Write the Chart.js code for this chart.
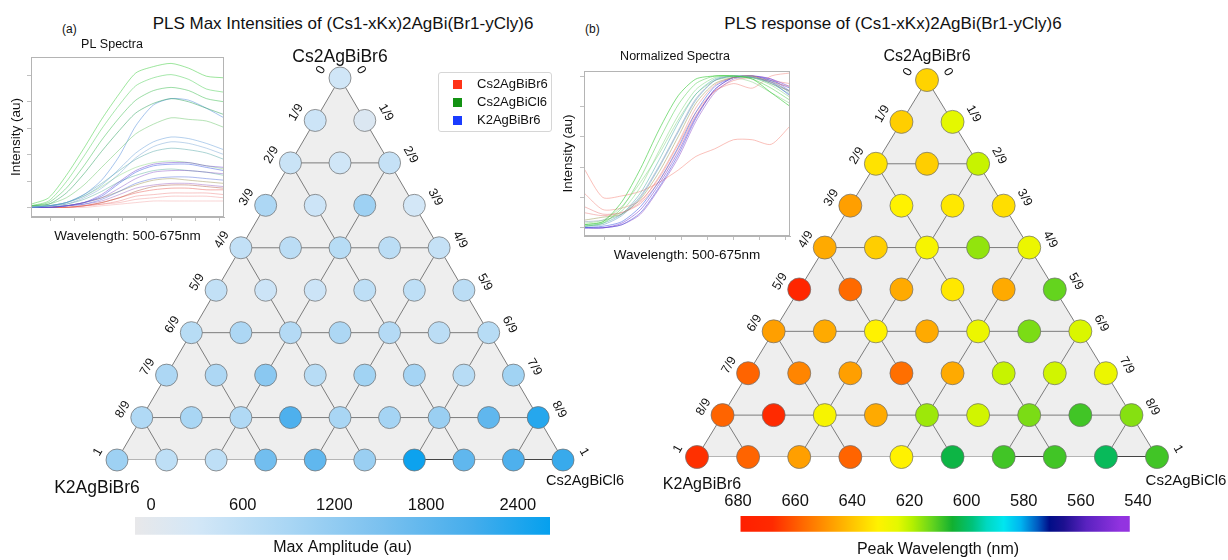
<!DOCTYPE html>
<html>
<head>
<meta charset="utf-8">
<script src="https://cdn.jsdelivr.net/npm/chart.js@4.4.1/dist/chart.umd.min.js"></script>
<style>
  body { margin: 0; background: #fff; width: 1228px; height: 560px; position: relative; overflow: hidden;
         font-family: 'Liberation Sans', Arial, Helvetica, sans-serif; color: #111; }
  canvas { position: absolute; }
  .main-title { position: absolute; top: 14px; font-size: 17px; white-space: nowrap; transform: translateX(-50%); }
  .panel { position: absolute; top: 22px; font-size: 12px; }
  .legend { position: absolute; left: 438px; top: 72px; width: 112px; height: 58px; border: 1px solid #d6d6d6;
            border-radius: 3px; font-size: 13px; }
  .legend div { position: absolute; left: 38px; height: 16px; line-height: 16px; white-space: nowrap; }
  .legend span { position: absolute; left: -24px; top: 4px; width: 9px; height: 9px; }
</style>
</head>
<body>
<div class="main-title" style="left:343px">PLS Max Intensities of (Cs1-xKx)2AgBi(Br1-yCly)6</div>
<div class="main-title" style="left:893px">PLS response of (Cs1-xKx)2AgBi(Br1-yCly)6</div>
<div class="panel" style="left:62px">(a)</div>
<div class="panel" style="left:585px">(b)</div>

<canvas id="terA" width="630" height="470" style="left:0;top:40px"></canvas>
<canvas id="terB" width="608" height="470" style="left:620px;top:40px"></canvas>
<canvas id="specA" width="232" height="222" style="left:0;top:30px"></canvas>
<canvas id="specB" width="236" height="230" style="left:560px;top:40px"></canvas>
<canvas id="barA" width="480" height="72" style="left:100px;top:488px"></canvas>
<canvas id="barB" width="528" height="75" style="left:700px;top:485px"></canvas>

<div class="legend">
  <div style="top:3px"><span style="background:#ff3318"></span>Cs2AgBiBr6</div>
  <div style="top:21px"><span style="background:#139213"></span>Cs2AgBiCl6</div>
  <div style="top:39px"><span style="background:#1a3cff"></span>K2AgBiBr6</div>
</div>

<script>
const FONT = "'Liberation Sans', Arial, Helvetica, sans-serif";
Chart.defaults.font.family = FONT;
Chart.defaults.color = '#111';

// --- data ---
const fracLabels = ['0', '1/9', '2/9', '3/9', '4/9', '5/9', '6/9', '7/9', '8/9', '1'];

// max amplitude (au), one row per Cs2AgBiBr6 fraction, left (K) to right (Cl)
const ampRows = [
  [350],
  [400, 150],
  [450, 350, 500],
  [850, 400, 1050, 300],
  [550, 650, 700, 650, 500],
  [550, 400, 400, 600, 600, 650],
  [700, 850, 750, 850, 750, 650, 700],
  [850, 850, 1300, 700, 1000, 950, 700, 1000],
  [800, 900, 800, 2000, 900, 950, 1100, 1800, 2350],
  [1050, 600, 600, 1600, 1800, 1100, 2550, 1800, 2000, 2200]
];

// peak wavelength (nm)
const peakRows = [
  [637],
  [638, 624],
  [634, 638, 621],
  [647, 631, 633, 635],
  [645, 638, 629, 616, 626],
  [672, 657, 645, 633, 645, 612],
  [647, 645, 631, 645, 626, 614, 623],
  [658, 652, 647, 656, 645, 621, 622, 626],
  [658, 668, 629, 645, 617, 622, 614, 609, 615],
  [667, 658, 647, 658, 631, 603, 609, 609, 601, 609]
];

const ampTicks = [0, 600, 1200, 1800, 2400];
const ampRange = [-105, 2611];
const peakTicks = [680, 660, 640, 620, 600, 580, 560, 540];
const peakRange = [543, 679];

const wavelengths = [500, 516, 532, 548, 564, 580, 595, 611, 627, 643, 659, 675];
const specTicksX = [517.5, 539, 561, 583, 605, 627, 649, 671];
const plTicksY = [0, 16.5, 33, 49.5, 66, 82.5];
const normTicksY = [0, 0.2, 0.4, 0.6, 0.8, 1.0];

// PL spectra (raw intensity, arbitrary units)
const plSpectra = [
  [2, 6, 20, 37, 55, 71, 84, 88, 90, 87, 82, 81],
  [1, 4, 16, 32, 49, 64, 76, 81, 83, 80, 74, 72],
  [1, 3, 12, 26, 42, 56, 67, 73, 75, 73, 68, 66],
  [1, 2, 9, 21, 35, 48, 59, 65, 68, 66, 62, 58],
  [1, 2, 6, 14, 25, 36, 46, 52, 56, 55, 54, 50],
  [0, 1, 3, 8, 17, 32, 51, 64, 68, 67, 62, 56],
  [0, 1, 3, 7, 14, 24, 34, 41, 44, 43, 40, 36],
  [0, 1, 2, 6, 12, 21, 31, 38, 41, 40, 37, 33],
  [0, 1, 3, 8, 15, 23, 30, 35, 37, 36, 34, 30],
  [0, 0, 1, 3, 8, 16, 23, 27, 28, 28, 26, 25],
  [0, 0, 1, 3, 7, 15, 22, 26, 27, 27, 25, 23],
  [0, 1, 3, 7, 13, 20, 25, 28, 29, 28, 26, 24],
  [0, 0, 1, 3, 6, 12, 18, 22, 23, 23, 22, 21],
  [0, 1, 2, 5, 10, 16, 20, 23, 24, 23, 22, 20],
  [0, 0, 1, 2, 5, 10, 15, 18, 19, 19, 18, 17],
  [0, 0, 1, 3, 6, 10, 14, 17, 18, 17, 16, 15],
  [0, 0, 1, 2, 4, 8, 12, 14, 15, 15, 14, 13],
  [0, 0, 0, 1, 3, 6, 9, 11, 12, 12, 11, 11],
  [0, 0, 0, 1, 2, 4, 7, 8, 9, 9, 9, 8],
  [0, 0, 0, 1, 2, 3, 5, 6, 7, 7, 7, 6],
  [0, 0, 0, 0, 1, 2, 3, 4, 4, 4, 4, 4],
  [0, 0, 0, 1, 3, 6, 10, 13, 14, 14, 13, 12]
];
const plColors = [
  'rgba(60,205,60,0.5)', 'rgba(80,210,90,0.5)', 'rgba(60,190,80,0.5)', 'rgba(40,160,90,0.5)', 'rgba(110,200,110,0.5)',
  'rgba(80,140,220,0.5)', 'rgba(90,150,215,0.45)', 'rgba(110,160,210,0.45)', 'rgba(70,160,160,0.45)',
  'rgba(110,70,210,0.5)', 'rgba(60,90,230,0.5)', 'rgba(130,210,120,0.45)', 'rgba(130,80,200,0.45)', 'rgba(80,170,150,0.45)',
  'rgba(70,100,220,0.45)', 'rgba(150,140,70,0.45)', 'rgba(150,90,190,0.45)',
  'rgba(230,80,70,0.45)', 'rgba(235,110,110,0.4)', 'rgba(240,130,130,0.4)', 'rgba(240,150,150,0.4)', 'rgba(170,80,60,0.45)'
];

// normalized spectra
const normSpectra = [
  [0.02, 0.04, 0.17, 0.39, 0.65, 0.87, 0.98, 1.00, 1.00, 0.98, 0.89, 0.80],
  [0.01, 0.03, 0.13, 0.33, 0.58, 0.81, 0.95, 1.00, 1.00, 0.98, 0.92, 0.84],
  [0.02, 0.04, 0.11, 0.27, 0.51, 0.74, 0.91, 0.99, 1.00, 0.99, 0.94, 0.86],
  [0.01, 0.03, 0.09, 0.23, 0.45, 0.69, 0.88, 0.98, 1.00, 0.99, 0.95, 0.88],
  [0.01, 0.02, 0.08, 0.20, 0.40, 0.63, 0.84, 0.97, 1.00, 0.99, 0.96, 0.90],
  [0.05, 0.07, 0.09, 0.19, 0.37, 0.60, 0.82, 0.95, 0.99, 1.00, 0.95, 0.90],
  [0.10, 0.08, 0.10, 0.17, 0.34, 0.56, 0.79, 0.94, 0.99, 1.00, 0.96, 0.93],
  [0.00, 0.01, 0.04, 0.14, 0.31, 0.53, 0.76, 0.93, 0.99, 1.00, 0.97, 0.92],
  [0.00, 0.00, 0.03, 0.12, 0.29, 0.50, 0.73, 0.91, 0.99, 1.00, 0.98, 0.93],
  [0.00, 0.00, 0.02, 0.10, 0.27, 0.48, 0.72, 0.91, 0.99, 0.99, 0.96, 0.87],
  [0.00, 0.00, 0.02, 0.09, 0.26, 0.46, 0.70, 0.89, 0.98, 1.00, 0.98, 0.90],
  [0.14, 0.09, 0.10, 0.16, 0.31, 0.52, 0.74, 0.90, 0.97, 0.99, 0.97, 0.95],
  [0.03, 0.05, 0.14, 0.30, 0.49, 0.71, 0.88, 0.97, 0.99, 0.96, 0.89, 0.82],
  [0.04, 0.05, 0.09, 0.21, 0.41, 0.64, 0.85, 0.97, 1.00, 1.00, 0.97, 0.89],
  [0.39, 0.20, 0.21, 0.24, 0.30, 0.38, 0.47, 0.52, 0.58, 0.58, 0.55, 0.67],
  [0.23, 0.12, 0.13, 0.18, 0.33, 0.55, 0.76, 0.90, 0.95, 0.92, 1.00, 1.02]
];
const normColors = [
  'rgba(50,200,50,0.6)', 'rgba(90,210,90,0.55)', 'rgba(120,215,120,0.5)', 'rgba(70,170,170,0.5)', 'rgba(90,150,190,0.5)',
  'rgba(150,150,80,0.5)', 'rgba(235,130,130,0.5)', 'rgba(60,90,230,0.55)', 'rgba(120,60,210,0.55)', 'rgba(70,80,220,0.55)',
  'rgba(140,70,200,0.5)', 'rgba(230,110,110,0.45)', 'rgba(130,210,130,0.5)', 'rgba(130,150,180,0.5)',
  'rgba(245,140,130,0.55)', 'rgba(240,120,110,0.45)'
];

// colour maps
const ampStops = [[-105, '#e8e8ea'], [300, '#d3e7f7'], [900, '#a9d6f4'], [1500, '#7bc1ef'], [2100, '#45adec'], [2611, '#05a0ee']];
const peakStops = [
  [540, '#9633e0'], [546, '#9233e0'], [558, '#5a22c0'], [566, '#1c1090'], [571, '#000e88'], [575, '#0058c0'],
  [581, '#00b4f0'], [587, '#00e6f0'], [593, '#00d8c0'], [598, '#00c27a'], [605, '#12b030'], [612, '#64d41e'],
  [619, '#b4f000'], [624, '#e4f800'], [631, '#fff200'], [640, '#ffc400'], [648, '#ff9a00'], [657, '#ff6a00'],
  [668, '#ff2a00'], [680, '#ff1e00']
];

function hexRgb(h) {
  return [parseInt(h.slice(1, 3), 16), parseInt(h.slice(3, 5), 16), parseInt(h.slice(5, 7), 16)];
}

function colorAt(stops, v) {
  if (v <= stops[0][0]) return stops[0][1];
  for (let i = 1; i < stops.length; i++) {
    if (v <= stops[i][0]) {
      const t = (v - stops[i - 1][0]) / (stops[i][0] - stops[i - 1][0]);
      const a = hexRgb(stops[i - 1][1]), b = hexRgb(stops[i][1]);
      const c = a.map((x, k) => Math.round(x + (b[k] - x) * t));
      return `rgb(${c[0]},${c[1]},${c[2]})`;
    }
  }
  return stops[stops.length - 1][1];
}

// --- ternary diagrams ---
function rotText(ctx, t, x, y, a) {
  ctx.save();
  ctx.translate(x, y);
  ctx.rotate(a);
  ctx.fillText(t, 0, 0);
  ctx.restore();
}

const ternaryLabels = {
  id: 'ternaryLabels',
  afterDatasetsDraw(chart, args, o) {
    const { ctx, scales: { x, y } } = chart;
    const px = (r, c) => [x.getPixelForValue(c - r / 2), y.getPixelForValue(r)];
    ctx.save();
    ctx.fillStyle = '#111';
    ctx.textAlign = 'center';
    ctx.textBaseline = 'middle';
    ctx.font = `${o.edgeSize}px ${FONT}`;
    fracLabels.forEach((t, r) => {
      const [lx, ly] = px(r, 0);
      rotText(ctx, t, lx - 19, ly - 8, -Math.PI / 3);
      const [rx, ry] = px(r, r);
      rotText(ctx, t, rx + 21, ry - 8, Math.PI / 3);
    });
    o.vertices.forEach(v => {
      const [vx, vy] = px(v.r, v.c);
      ctx.font = `${v.size}px ${FONT}`;
      ctx.fillText(v.text, vx + v.dx, vy + v.dy);
    });
    ctx.restore();
  }
};

function ternaryChart(id, rows, stops, radius, padding, vertices) {
  const P = (r, c) => ({ x: c - r / 2, y: r });
  const nodes = [];
  rows.forEach((row, r) => row.forEach((v, c) => nodes.push({ x: c - r / 2, y: r, v })));

  const segs = [];
  [2, 4, 6, 8].forEach(k => {
    segs.push([P(k, 0), P(k, k)]);
    segs.push([P(k, k), P(9, k)]);
    segs.push([P(k, 0), P(9, 9 - k)]);
  });

  const datasets = [
    {
      data: nodes, showLine: false, order: 0, clip: false,
      pointRadius: radius, pointHoverRadius: radius,
      pointBackgroundColor: nodes.map(n => colorAt(stops, n.v)),
      pointBorderColor: 'rgba(110,110,110,0.9)', pointBorderWidth: 0.8
    },
    ...segs.map(s => ({ data: s, showLine: true, order: 1, borderColor: '#7c7c7c', borderWidth: 1, pointRadius: 0 })),
    { data: [P(9, 6), P(9, 7)], showLine: true, order: 1, borderColor: '#444', borderWidth: 2, pointRadius: 0 },
    { data: [P(9, 8), P(9, 9)], showLine: true, order: 1, borderColor: '#444', borderWidth: 2, pointRadius: 0 },
    {
      data: [P(0, 0), P(9, 0), P(9, 9), P(0, 0)], showLine: true, order: 2, fill: 'shape',
      backgroundColor: '#eeeeee', borderColor: '#7c7c7c', borderWidth: 1, pointRadius: 0
    }
  ];

  return new Chart(document.getElementById(id), {
    type: 'scatter',
    data: { datasets },
    options: {
      responsive: false, animation: false, events: [],
      layout: { padding },
      plugins: {
        legend: { display: false }, tooltip: { enabled: false },
        ternaryLabels: { edgeSize: 12.5, vertices }
      },
      scales: {
        x: { type: 'linear', display: false, min: -4.5, max: 4.5 },
        y: { type: 'linear', display: false, min: 0, max: 9, reverse: true }
      }
    },
    plugins: [ternaryLabels]
  });
}

ternaryChart('terA', ampRows, ampStops, 11, { left: 117, right: 67, top: 38, bottom: 50 }, [
  { r: 0, c: 0, text: 'Cs2AgBiBr6', dx: 0, dy: -21, size: 17.5 },
  { r: 9, c: 0, text: 'K2AgBiBr6', dx: -20, dy: 28, size: 17.5 },
  { r: 9, c: 9, text: 'Cs2AgBiCl6', dx: 22, dy: 21, size: 14.5 }
]);
ternaryChart('terB', peakRows, peakStops, 11.5, { left: 77, right: 71, top: 40, bottom: 53 }, [
  { r: 0, c: 0, text: 'Cs2AgBiBr6', dx: 0, dy: -23, size: 16 },
  { r: 9, c: 0, text: 'K2AgBiBr6', dx: 5, dy: 28, size: 16 },
  { r: 9, c: 9, text: 'Cs2AgBiCl6', dx: 29, dy: 24, size: 15 }
]);

// --- spectra insets ---
const boxBorder = {
  id: 'boxBorder',
  afterDraw(chart) {
    const { ctx, chartArea: a } = chart;
    ctx.save();
    ctx.strokeStyle = '#b4b4b4';
    ctx.lineWidth = 1;
    ctx.strokeRect(a.left + 0.5, a.top + 0.5, a.right - a.left - 1, a.bottom - a.top - 1);
    ctx.restore();
  }
};

function spectraChart(id, series, colors, cfg) {
  return new Chart(document.getElementById(id), {
    type: 'line',
    data: {
      datasets: series.map((ys, i) => ({
        data: ys.map((v, k) => ({ x: wavelengths[k], y: v })),
        borderColor: colors[i], borderWidth: 1, pointRadius: 0, tension: 0.25, fill: false
      }))
    },
    options: {
      responsive: false, animation: false, events: [],
      layout: { padding: { left: 0, right: cfg.padRight, top: 0, bottom: 0 } },
      plugins: {
        legend: { display: false }, tooltip: { enabled: false },
        title: { display: true, text: cfg.title, font: { size: 12.5, weight: 'normal' }, color: '#111', padding: cfg.titlePad }
      },
      scales: {
        x: {
          type: 'linear', min: 500, max: 675,
          afterBuildTicks: s => { s.ticks = specTicksX.map(v => ({ value: v })); },
          afterFit: s => { s.height = cfg.xHeight; },
          ticks: { callback: () => '' },
          grid: { drawOnChartArea: false, tickLength: 4, color: '#c0c0c0' },
          border: { color: '#b4b4b4' },
          title: { display: true, text: 'Wavelength: 500-675nm', font: { size: 13.5 }, color: '#111', padding: { top: 0, bottom: cfg.xTitlePad } }
        },
        y: {
          type: 'linear', min: cfg.yMin, max: cfg.yMax,
          afterBuildTicks: s => { s.ticks = cfg.yTicks.map(v => ({ value: v })); },
          afterFit: s => { s.width = cfg.yWidth; },
          ticks: { callback: () => '' },
          grid: { drawOnChartArea: false, tickLength: 4, color: '#c0c0c0' },
          border: { color: '#b4b4b4' },
          title: { display: true, text: 'Intensity (au)', font: { size: 13.5 }, color: '#111', padding: { top: cfg.yTitlePad, bottom: 0 } }
        }
      }
    },
    plugins: [boxBorder]
  });
}

spectraChart('specA', plSpectra, plColors, {
  title: 'PL Spectra', titlePad: { top: 7, bottom: 5 }, padRight: 8,
  xHeight: 35, xTitlePad: 8, yWidth: 31, yTitlePad: 8,
  yMin: -6, yMax: 94, yTicks: plTicksY
});
spectraChart('specB', normSpectra, normColors, {
  title: 'Normalized Spectra', titlePad: { top: 9, bottom: 7 }, padRight: 6,
  xHeight: 34, xTitlePad: 7, yWidth: 24, yTitlePad: 0,
  yMin: -0.054, yMax: 1.033, yTicks: normTicksY
});

// --- colour bars ---
function colorbar(id, range, ticks, stops, reverse, title, cfg) {
  return new Chart(document.getElementById(id), {
    type: 'bar',
    data: {
      labels: [''],
      datasets: [{
        data: [range], borderWidth: 0, borderSkipped: false, barPercentage: 1, categoryPercentage: 1,
        backgroundColor: c => {
          const ch = c.chart;
          if (!ch.chartArea) return stops[0][1];
          const sx = ch.scales.x;
          const lo = stops[0][0], hi = stops[stops.length - 1][0];
          const g = ch.ctx.createLinearGradient(sx.getPixelForValue(lo), 0, sx.getPixelForValue(hi), 0);
          stops.forEach(([v, col]) => g.addColorStop((v - lo) / (hi - lo), col));
          return g;
        }
      }]
    },
    options: {
      indexAxis: 'y', responsive: false, animation: false, events: [],
      layout: { padding: { left: cfg.left, right: cfg.right, top: 0, bottom: 0 } },
      plugins: {
        legend: { display: false }, tooltip: { enabled: false },
        title: { display: true, position: 'bottom', text: title, font: { size: 16, weight: 'normal' }, color: '#111', padding: cfg.titlePad }
      },
      scales: {
        x: {
          type: 'linear', position: 'top', min: cfg.min, max: cfg.max, reverse,
          afterBuildTicks: s => { s.ticks = ticks.map(v => ({ value: v })); },
          afterFit: s => { s.height = cfg.axisH; },
          grid: { display: false, drawTicks: false },
          border: { display: false },
          ticks: { font: { size: 16.5 }, color: '#111', padding: cfg.tickPad, maxRotation: 0, autoSkip: false,
                   callback: v => String(v) }
        },
        y: { display: false }
      }
    }
  });
}

colorbar('barA', ampRange, ampTicks, ampStops, false, 'Max Amplitude (au)',
  { left: 35, right: 30, min: ampRange[0], max: ampRange[1], axisH: 29, tickPad: 2, titlePad: { top: 3, bottom: 3 } });
colorbar('barB', peakRange, peakTicks, peakStops, true, 'Peak Wavelength (nm)',
  { left: 38, right: 90, min: 540, max: 680, axisH: 31, tickPad: 5, titlePad: { top: 8, bottom: 1 } });
</script>
</body>
</html>
